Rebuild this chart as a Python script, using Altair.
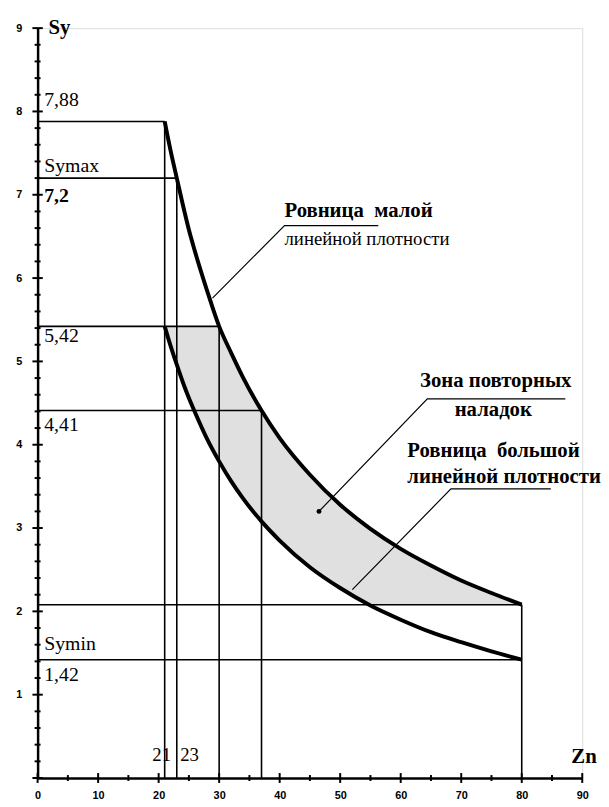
import altair as alt
import pandas as pd

# ---- data ----
zn = [21, 22, 23, 24, 25, 26, 28, 30, 32, 34, 37, 40, 45, 50, 55, 60, 65, 70, 75, 80]
sy_low_density = [7.88, 7.52, 7.20, 6.88, 6.58, 6.32, 5.85, 5.42, 5.10, 4.80, 4.41,
                   4.08, 3.64, 3.28, 2.99, 2.75, 2.55, 2.37, 2.22, 2.08]
sy_high_density = [5.42, 5.18, 4.96, 4.75, 4.56, 4.39, 4.07, 3.80, 3.56, 3.35, 3.08,
                   2.85, 2.53, 2.28, 2.07, 1.90, 1.75, 1.63, 1.52, 1.42]

h_levels = [7.88, 7.2, 5.42, 4.41, 2.08, 1.42]
h_ends = [21, 23, 30, 37, 80, 80]
v_levels = [21, 23, 30, 37, 80]
v_ends = [7.88, 7.2, 5.42, 4.41, 2.08]

x_major = [0, 10, 20, 30, 40, 50, 60, 70, 80, 90]
x_minor = [5, 15, 25, 35, 45, 55, 65, 75, 85]
y_major = [0, 1, 2, 3, 4, 5, 6, 7, 8, 9]
y_minor = [round(i * 0.2, 1) for i in range(46) if i % 5 != 0]

lvl_text = ["7,88", "Symax", "5,42", "4,41", "Symin", "1,42"]
lvl_y = [8.14, 7.34, 5.30, 4.24, 1.61, 1.24]
lvl_bold_text = ["7,2"]
lvl_bold_y = [6.98]

zn_marks = ["21", "23"]
zn_marks_x = [20.5, 25.1]

note_reg_text = ["линейной плотности"]
note_reg_x = [40.8]
note_reg_y = [6.47]
note_bold_text = ["Ровница\u00a0 малой", "Ровница\u00a0 большой", "линейной плотности"]
note_bold_x = [40.8, 61.1, 61.1]
note_bold_y = [6.80, 3.92, 3.61]
zone_text = ["Зона повторных", "наладок"]
zone_text_x = [75.7, 75.3]
zone_text_y = [4.76, 4.42]

leader_id = ["a", "a", "a", "b", "b", "b", "c", "c", "c"]
leader_x = [28.9, 40.8, 56.3, 46.5, 64.4, 87.2, 52.0, 68.3, 84.8]
leader_y = [5.76, 6.63, 6.63, 3.20, 4.55, 4.55, 2.26, 3.47, 3.47]

# ---- tables ----
curves = pd.DataFrame({
    "zn": zn * 2,
    "sy": sy_low_density + sy_high_density,
    "curve": ["low"] * len(zn) + ["high"] * len(zn),
})
zone = pd.DataFrame({
    "zn": zn,
    "top": pd.Series(sy_low_density).clip(upper=h_levels[2]),
    "bottom": pd.Series(sy_high_density).clip(lower=h_levels[4]),
})
hrules = pd.DataFrame({"y": h_levels, "x": [0] * len(h_levels), "x2": h_ends})
vrules = pd.DataFrame({"x": v_levels, "y": [0] * len(v_levels), "y2": v_ends})
leaders = pd.DataFrame({"id": leader_id, "x": leader_x, "y": leader_y,
                        "o": list(range(len(leader_x)))})

xs = alt.Scale(domain=[0, 90], nice=False, zero=False)
ys = alt.Scale(domain=[0, 9], nice=False, zero=False)
x_axis = alt.Axis(values=x_major, ticks=False, grid=False, title=None,
                  domainColor="black", domainWidth=2.5, labelColor="black",
                  labelFont="Liberation Sans", labelFontSize=11, labelFontWeight="bold",
                  labelPadding=12, labelFlush=False)
y_axis = alt.Axis(values=y_major[1:], ticks=False, grid=False, title=None,
                  domainColor="black", domainWidth=2.5, labelColor="black",
                  labelFont="Liberation Sans", labelFontSize=11, labelFontWeight="bold",
                  labelPadding=16, labelFlush=False)


def X(f):
    return alt.X(f, type="quantitative", scale=xs, axis=x_axis)


def Y(f):
    return alt.Y(f, type="quantitative", scale=ys, axis=y_axis)


def text_layer(texts, xv, yv, size, bold=False, align="left"):
    kw = dict(align=align, baseline="middle", font="Liberation Serif",
              fontSize=size, color="black")
    if bold:
        kw["fontWeight"] = "bold"
    return alt.Chart(pd.DataFrame({"t": texts, "x": xv, "y": yv})).mark_text(**kw).encode(
        x=X("x"), y=Y("y"), text="t")


def tick_layer(xv, yv, shape, size):
    return alt.Chart(pd.DataFrame({"x": xv, "y": yv})).mark_point(
        shape=shape, size=size, strokeWidth=2, color="black", filled=False, opacity=1
    ).encode(x=X("x"), y=Y("y"))


base_area = alt.Chart(zone).mark_area(color="#e0e0e0", interpolate="monotone").encode(
    x=X("zn"), y=Y("top"), y2="bottom")

h_chart = alt.Chart(hrules).mark_rule(color="black", strokeWidth=1.6).encode(
    x=X("x"), x2="x2", y=Y("y"))
v_chart = alt.Chart(vrules).mark_rule(color="black", strokeWidth=1.6).encode(
    x=X("x"), y=Y("y"), y2="y2")

curve_chart = alt.Chart(curves).mark_line(color="black", strokeWidth=4,
                                          interpolate="monotone").encode(
    x=X("zn"), y=Y("sy"), detail="curve")

leader_chart = alt.Chart(leaders).mark_line(color="black", strokeWidth=1.2).encode(
    x=X("x"), y=Y("y"), detail="id", order="o")
leader_dot = alt.Chart(leaders.iloc[[3]]).mark_point(
    filled=True, color="black", size=25, opacity=1).encode(x=X("x"), y=Y("y"))

vert = "M0,-1L0,1"
horiz = "M-1,0L1,0"
xt_major = tick_layer(x_major, [0] * len(x_major), vert, 100)
xt_minor = tick_layer(x_minor, [0] * len(x_minor), vert, 36)
yt_major = tick_layer([0] * len(y_major), y_major, horiz, 110)
yt_minor = tick_layer([0] * len(y_minor), y_minor, horiz, 36)

lvl = text_layer(lvl_text, [1.1] * len(lvl_y), lvl_y, 20)
lvl_b = text_layer(lvl_bold_text, [1.1] * len(lvl_bold_y), lvl_bold_y, 20, bold=True)
znm = text_layer(zn_marks, zn_marks_x, [0.27] * len(zn_marks), 19, align="center")

note_r = text_layer(note_reg_text, note_reg_x, note_reg_y, 19)
note_b = text_layer(note_bold_text, note_bold_x, note_bold_y, 21, bold=True)
zone_t = text_layer(zone_text, zone_text_x, zone_text_y, 21, bold=True, align="center")

titles = text_layer(["Sy", "Zn"], [1.8, 88.2], [9.0, 0.25], 21, bold=True)

chart = alt.layer(
    base_area, h_chart, v_chart, curve_chart, leader_chart, leader_dot,
    xt_major, xt_minor, yt_major, yt_minor, lvl, lvl_b, znm, note_r, note_b, zone_t, titles
).properties(
    width=552, height=760,
    padding={"left": 30, "top": 15, "right": 19, "bottom": 24},
    autosize=alt.AutoSizeParams(type="none"),
).configure_view(stroke=None).configure(background="white")

chart.save("out.html", embed_options={"renderer": "svg", "actions": False})
